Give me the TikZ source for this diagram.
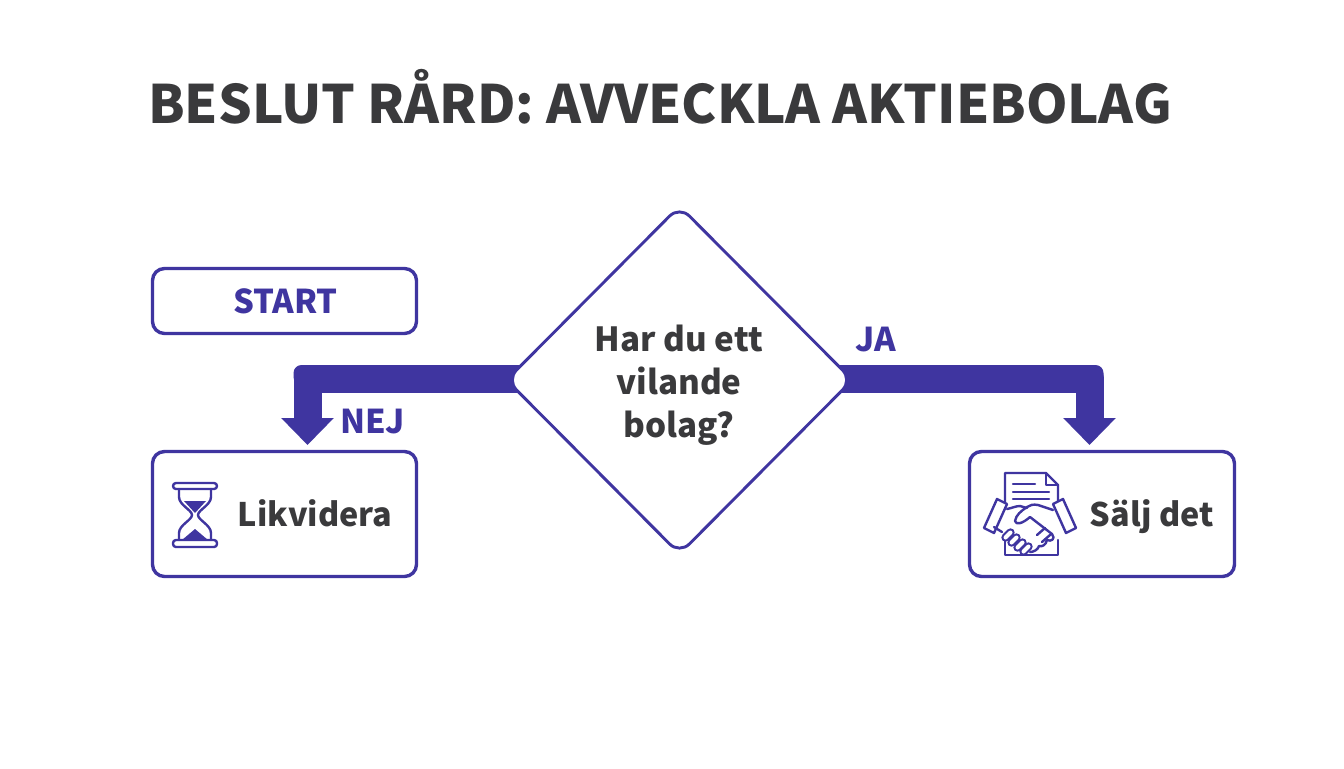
\documentclass[tikz,border=0pt]{standalone}
\usepackage{fontspec}
\setmainfont{Noto Sans CJK SC}
\usetikzlibrary{shapes.geometric,arrows.meta,backgrounds}
\definecolor{brand}{HTML}{3F35A0}
\definecolor{ink}{HTML}{3A3A3C}
\tikzset{
  x=0.5pt,y=-0.5pt,
  boxnode/.style={draw=brand,line width=1.7pt,rounded corners=6pt,fill=white,inner sep=0pt},
  flow/.style={draw=brand,line width=14pt,line join=round,-{Triangle[width=25.5pt,length=13.5pt]}},
  cornerpatch/.style={fill=brand,rounded corners=4pt},
  icon/.style={draw=brand,line width=1.2pt,line join=round,line cap=round},
  iconfill/.style={fill=brand},
  lab/.style={font=\bfseries\fontsize{16.4}{20}\selectfont,text=brand,inner sep=0pt,anchor=base},
  body/.style={font=\bfseries\fontsize{16.2}{21}\selectfont,text=ink,inner sep=0pt,align=center},
  capsule/.style={double=white,draw=brand,double distance=2pt,line width=1.1pt,line cap=round},
}
\begin{document}
\begin{tikzpicture}
\useasboundingbox (0,0) rectangle (1344,768);
\node[font=\bfseries\fontsize{26.45}{30}\selectfont,text=ink,inner sep=0pt,anchor=base] (title) at (660,123) {BESLUT RÅRD: AVVECKLA AKTIEBOLAG};
\node[boxnode,minimum width=132pt,minimum height=32.5pt] (start) at (284.5,301) {};
\node[lab] (starttext) at (285.5,313) {START};
\node[boxnode,minimum width=132pt,minimum height=62.5pt] (likv) at (284.5,514) {};
\node[boxnode,minimum width=132.5pt,minimum height=62.5pt] (salj) at (1102,514) {};
\node[body,anchor=base] (likvtext) at (315,526) {Likvidera};
\node[body,anchor=base] (saljtext) at (1152,526) {Sälj det};
\node[diamond,draw=brand,line width=1.45pt,fill=white,rounded corners=7pt,inner sep=0pt,minimum width=173.5pt,minimum height=174.5pt] (dec) at (679.5,380) {};
\node[body,font=\bfseries\fontsize{16.6}{21.5}\selectfont] (dectext) at (679,385) {Har du ett\\vilande\\bolag?};
\node[lab] (nej) at (372.5,433) {NEJ};
\node[lab] (ja) at (875.5,351) {JA};
\coordinate (nejend) at (307.5,445);
\coordinate (jaend) at (1089.5,445);
\begin{pgfonlayer}{background}
\fill[white] (0,0) rectangle (1344,768);
\draw[flow] (dec.center |- 0,379) -| (nejend);
\draw[flow] (dec.center |- 0,379) -| (jaend);
\fill[cornerpatch] (293.5,385) -- (293.5,365) -- (315,365) -- (315,385) -- cycle;
\fill[cornerpatch] (1103.5,385) -- (1103.5,365) -- (1082,365) -- (1082,385) -- cycle;
\end{pgfonlayer}
% hourglass
\draw[icon,fill=white,rounded corners=1.5pt] (173,483) rectangle (217,489);
\draw[icon,fill=white,rounded corners=1.5pt] (173,540) rectangle (217,547);
\draw[icon] (179,489) -- (179,497) .. controls (179,505) and (192,510) .. (192,515) .. controls (192,520) and (179,525) .. (179,533) -- (179,540);
\draw[icon] (211,489) -- (211,497) .. controls (211,505) and (198,510) .. (198,515) .. controls (198,520) and (211,525) .. (211,533) -- (211,540);
\fill[iconfill] (184,501) -- (206,501) -- (195,513) -- cycle;
\fill[iconfill] (182,540) -- (195,529) -- (208,540) -- cycle;
% handshake
\draw[icon] (1005,503) -- (1005,473) -- (1046,473) -- (1058,485) -- (1058,502);
\draw[icon] (1046,473) -- (1046,485) -- (1058,485);
\draw[icon] (1013,484) -- (1035,484) (1013,492) -- (1049,492) (1013,499) -- (1049,499);
\draw[icon] (1005,537) -- (1005,555) -- (1058,555) -- (1058,540);
\draw[icon,fill=white] (997,499) -- (1007,504) -- (994,533) -- (984,528) -- cycle;
\draw[icon,fill=white] (1063,499) -- (1053,504) -- (1066,533) -- (1076,528) -- cycle;
\draw[icon] (1007,509) .. controls (1012,508) and (1016,506) .. (1020,506) -- (1027,508);
\draw[icon] (1053,510) -- (1038,505) .. controls (1033,504) and (1030,505) .. (1027,507) .. controls (1021,511) and (1016,515) .. (1015,521) .. controls (1016,525) and (1022,524) .. (1030,517) -- (1052,534) .. controls (1056,539) and (1051,542) .. (1047,540) .. controls (1046,545) and (1042,547) .. (1039,546) .. controls (1038,550) and (1033,552) .. (1030,552);
\draw[icon] (1037,535) -- (1045,528) (1042,542) -- (1050,535);
\draw[icon] (994,527) -- (1002,532);
\foreach \a/\b in {1008/535,1014/540,1020/545,1026/549}
  \draw[capsule] (\a+2.5,\b-2.5) -- ++(-5,5);
\end{tikzpicture}
\end{document}
